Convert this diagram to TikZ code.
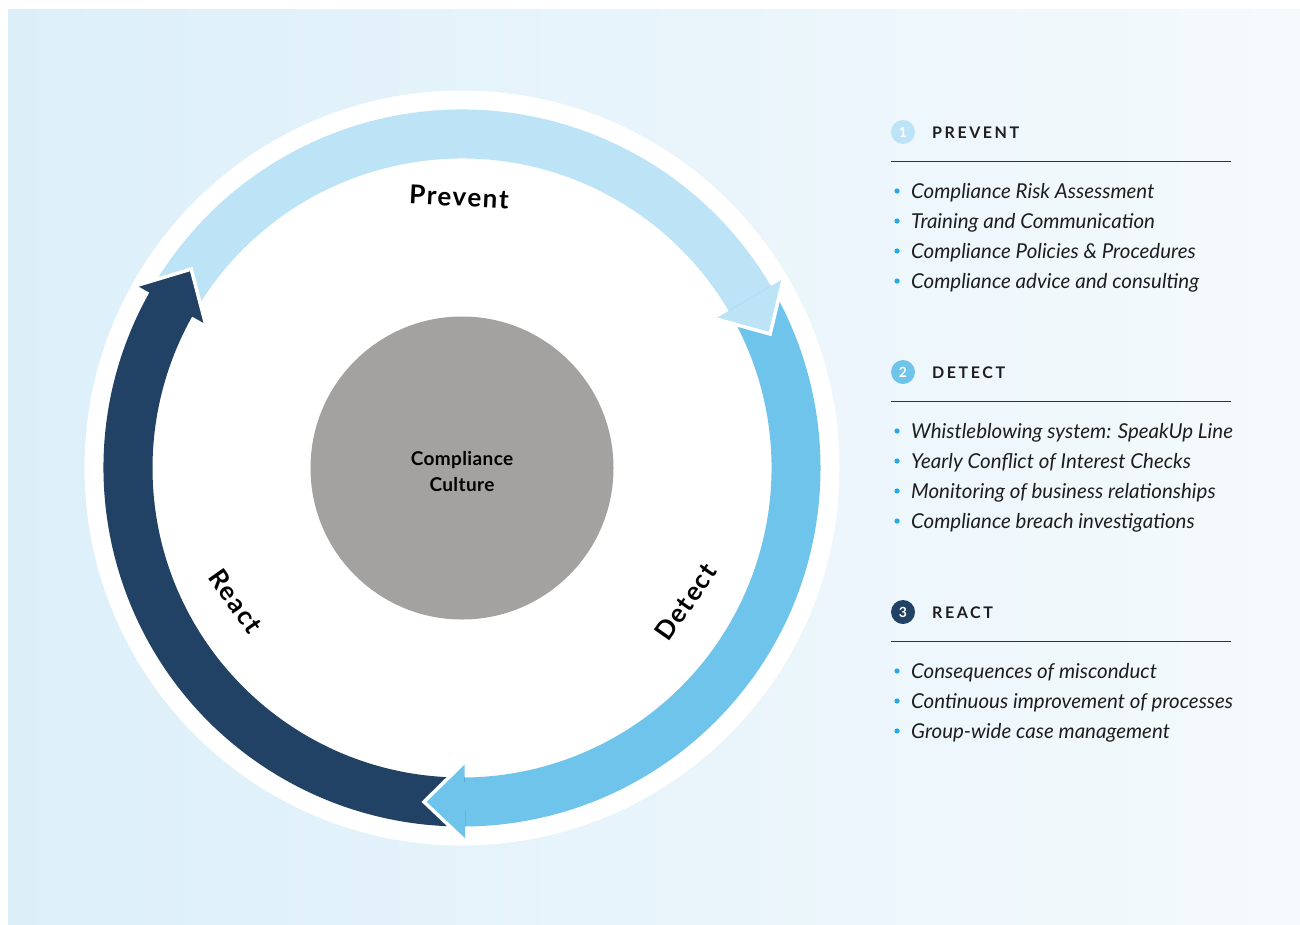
\documentclass[tikz,border=0pt]{standalone}
\usepackage{fontspec}
\setmainfont{Lato}
\definecolor{bgL}{HTML}{DCEFF9}
\definecolor{bgR}{HTML}{F5FAFD}
\definecolor{cPrev}{HTML}{BDE3F6}
\definecolor{cDet}{HTML}{6FC4EC}
\definecolor{cReact}{HTML}{214264}
\definecolor{cGray}{HTML}{A3A2A1}
\definecolor{cBullet}{HTML}{29A8E0}
\definecolor{cText}{HTML}{1E1E1E}
\newcommand\ringbody[3]{%
  \fill[#3] (#1:309.5) arc[start angle=#1,end angle=#2,radius=309.5]
    -- (#2:358.5) arc[start angle=#2,end angle=#1,radius=358.5] -- cycle;}
\newcommand\ringhead[2]{%
  \fill[#2] (#1:294) -- ({#1+7}:336) -- (#1:373) -- cycle;
  \draw[white,line width=3.5pt,line join=miter] (#1:294) -- ({#1+7}:336) -- (#1:373);}
\tikzset{
  ringlbl/.style={inner sep=0pt,font=\bfseries\fontsize{26}{26}\selectfont\addfontfeatures{LetterSpace=6},text=black},
  numcirc/.style={circle,minimum size=24pt,inner sep=0pt,text=white,font=\bfseries\fontsize{14}{14}\selectfont},
  sechead/.style={anchor=base west,inner sep=0pt,text=cText,font=\bfseries\fontsize{16}{16}\selectfont\addfontfeatures{LetterSpace=16}},
  itemtxt/.style={anchor=base west,inner sep=0pt,text=cText,font=\itshape\fontsize{20.5}{20.5}\selectfont},
  secrule/.style={draw=black!80,line width=1pt}
}
\newcommand\itm[3]{%
  \fill[cBullet] (897,{#2-7}) circle[radius=2.6];
  \node[itemtxt] (#1) at (911,#2) {#3};}
\begin{document}
\begin{tikzpicture}[x=1pt,y=-1pt]
\useasboundingbox (0,0) rectangle (1300,924);
\fill[white] (0,0) rectangle (1300,924);
\shade[left color=bgL,right color=bgR] (8,9) rectangle (1310,934);
% cycle
\begin{scope}[shift={(462,468)}]
  \fill[white] (0,0) circle[radius=377.5];
  \ringbody{-150.7}{-29}{cPrev}
  \ringbody{-30.5}{91}{cDet}
  \ringbody{89.5}{210.8}{cReact}
  \ringhead{-30.5}{cPrev}
  \ringhead{89.5}{cDet}
  \ringhead{209.3}{cReact}
  \fill[cGray] (0,0) circle[radius=151.5];
\end{scope}
\node[ringlbl,rotate=-3] (tPrev) at (459,197) {Prevent};
\node[ringlbl,rotate=-55] (tReact) at (236,601) {React};
\node[ringlbl,rotate=55] (tDet) at (686,602) {Detect};
\node[align=center,inner sep=0pt,text=black,font=\bfseries\fontsize{19}{26}\selectfont\addfontfeatures{LetterSpace=2}] (cc) at (462,472) {Compliance\\Culture};
% section 1
\node[numcirc,fill=cPrev] (n1) at (903,132) {1};
\node[sechead] (h1) at (932,138) {PREVENT};
\coordinate (r1a) at (891,161); \coordinate (r1b) at (1231,161);
\draw[secrule] (r1a) -- (r1b);
\itm{i11}{198}{Compliance Risk Assessment}
\itm{i12}{228}{Training and Communication}
\itm{i13}{258}{Compliance Policies \& Procedures}
\itm{i14}{288}{Compliance advice and consulting}
% section 2
\node[numcirc,fill=cDet] (n2) at (903,372) {2};
\node[sechead] (h2) at (932,378) {DETECT};
\coordinate (r2a) at (891,401); \coordinate (r2b) at (1231,401);
\draw[secrule] (r2a) -- (r2b);
\itm{i21}{438}{Whistleblowing system: SpeakUp Line}
\itm{i22}{468}{Yearly Conflict of Interest Checks}
\itm{i23}{498}{Monitoring of business relationships}
\itm{i24}{528}{Compliance breach investigations}
% section 3
\node[numcirc,fill=cReact] (n3) at (903,612) {3};
\node[sechead] (h3) at (932,618) {REACT};
\coordinate (r3a) at (891,641); \coordinate (r3b) at (1231,641);
\draw[secrule] (r3a) -- (r3b);
\itm{i31}{678}{Consequences of misconduct}
\itm{i32}{708}{Continuous improvement of processes}
\itm{i33}{738}{Group-wide case management}
\end{tikzpicture}
\end{document}
